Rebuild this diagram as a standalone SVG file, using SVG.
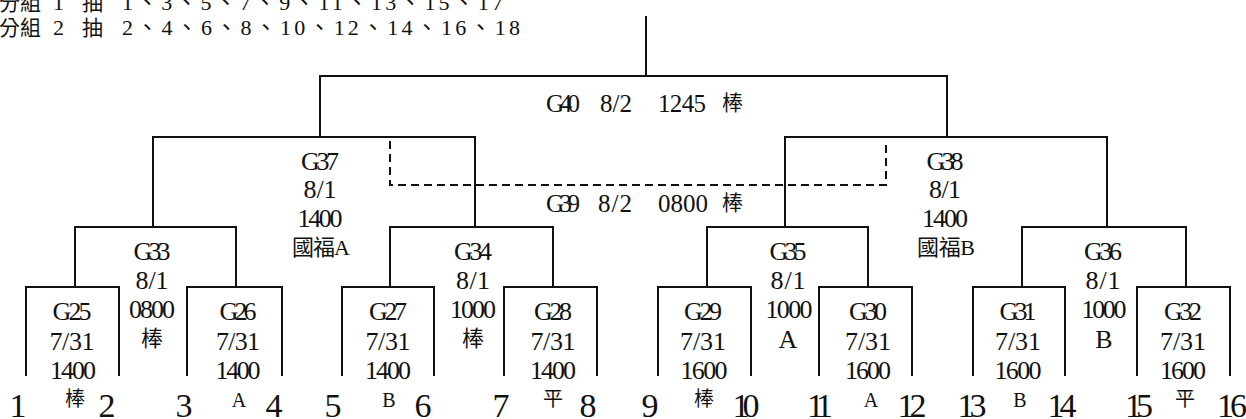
<svg xmlns="http://www.w3.org/2000/svg" width="1246" height="419" viewBox="0 0 1246 419">
<style>
.bg{fill:#fff}
.ln{fill:none;stroke:#111;stroke-width:2}
.dash{fill:none;stroke:#111;stroke-width:2;stroke-dasharray:8 5}
.lb,.sm,.num,.hd,.st{font-family:"Liberation Serif","Noto Sans CJK TC",serif;fill:#111}
.cj,.smc,.hdc,.stc{font-family:"Noto Sans CJK TC","Liberation Serif",sans-serif;fill:#111}
.lb{font-size:26px;text-anchor:middle}
.cj{font-size:22px;text-anchor:middle}
.sm{font-size:20px;text-anchor:middle}
.smc{font-size:20px;text-anchor:middle}
.num{font-size:34px;text-anchor:middle}
.hd{font-size:22px}
.hdc{font-size:21px}
.st{font-size:25px}
.stc{font-size:21px}
.cjk2{font-size:22px}
</style>
<rect class="bg" x="0" y="0" width="1246" height="419"/>

<g id="header">
<text class="hdc" x="-1" y="10">分組</text>
<text class="hd" x="53" y="10">1</text>
<text class="hdc" x="82" y="10">抽</text>
<text class="hd" x="122" y="10" textLength="381" lengthAdjust="spacing">1、3、5、7、9、11、13、15、17</text>
<text class="hdc" x="-1" y="35">分組</text>
<text class="hd" x="53" y="35">2</text>
<text class="hdc" x="82" y="35">抽</text>
<text class="hd" x="122" y="35" textLength="398" lengthAdjust="spacing">2、4、6、8、10、12、14、16、18</text>
</g>

<g id="connectors">
<path class="ln" d="M646,16 V76"/>
<path class="ln" d="M320,137 V76 H947 V137"/>
<path class="ln" d="M153,227 V137 H475 V227"/>
<path class="ln" d="M785,227 V137 H1107 V227"/>
<path class="ln" d="M75,287 V227 H236 V287"/>
<path class="ln" d="M390,287 V227 H553 V287"/>
<path class="ln" d="M707,287 V227 H868 V287"/>
<path class="ln" d="M1022,287 V227 H1186 V287"/>
<path class="ln" d="M26,376 V287 H119 V376"/>
<path class="ln" d="M187,376 V287 H282 V376"/>
<path class="ln" d="M342,376 V287 H434 V376"/>
<path class="ln" d="M504,376 V287 H597 V376"/>
<path class="ln" d="M658,376 V287 H751 V376"/>
<path class="ln" d="M819,376 V287 H912 V376"/>
<path class="ln" d="M973,376 V287 H1065 V376"/>
<path class="ln" d="M1137,376 V287 H1230 V376"/>
<path class="dash" d="M390,141 V185 H886 V141"/>
</g>

<g id="G40">
<text class="st" x="546" y="112" textLength="34">G40</text>
<text class="st" x="600" y="112" textLength="32">8/2</text>
<text class="st" x="658" y="112" textLength="48">1245</text>
<text class="stc" x="722" y="110">棒</text>
</g>
<g id="G39">
<text class="st" x="546" y="212" textLength="34">G39</text>
<text class="st" x="598" y="212" textLength="34">8/2</text>
<text class="st" x="658" y="212" textLength="50">0800</text>
<text class="stc" x="722" y="210">棒</text>
</g>

<g id="G37">
<text class="lb" x="320" y="170" textLength="38">G37</text>
<text class="lb" x="320" y="198" textLength="33">8/1</text>
<text class="lb" x="320" y="227" textLength="45">1400</text>
<text class="lb cjk2" x="321" y="255" textLength="58">國福A</text>
</g>
<g id="G38">
<text class="lb" x="945" y="170" textLength="37">G38</text>
<text class="lb" x="945" y="198" textLength="32">8/1</text>
<text class="lb" x="945" y="227" textLength="46">1400</text>
<text class="lb cjk2" x="946" y="255" textLength="58">國福B</text>
</g>

<g id="G33">
<text class="lb" x="152" y="260" textLength="37">G33</text>
<text class="lb" x="152" y="289" textLength="33">8/1</text>
<text class="lb" x="152" y="318" textLength="46">0800</text>
<text class="cj" x="152" y="346">棒</text>
</g>
<g id="G34">
<text class="lb" x="473" y="260" textLength="38">G34</text>
<text class="lb" x="473" y="289" textLength="34">8/1</text>
<text class="lb" x="473" y="318" textLength="46">1000</text>
<text class="cj" x="473" y="346">棒</text>
</g>
<g id="G35">
<text class="lb" x="788" y="260" textLength="37">G35</text>
<text class="lb" x="788" y="289" textLength="35">8/1</text>
<text class="lb" x="789" y="318" textLength="47">1000</text>
<text class="lb" x="788" y="348">A</text>
</g>
<g id="G36">
<text class="lb" x="1103" y="260" textLength="38">G36</text>
<text class="lb" x="1103" y="289" textLength="35">8/1</text>
<text class="lb" x="1104" y="318" textLength="45">1000</text>
<text class="lb" x="1104" y="348">B</text>
</g>

<g id="G25">
<text class="lb" x="72" y="320" textLength="39">G25</text>
<text class="lb" x="72" y="350" textLength="45">7/31</text>
<text class="lb" x="73" y="379" textLength="46">1400</text>
<text class="smc" x="75" y="406">棒</text>
</g>
<g id="G26">
<text class="lb" x="238" y="320" textLength="37">G26</text>
<text class="lb" x="238" y="350" textLength="44">7/31</text>
<text class="lb" x="238" y="379" textLength="45">1400</text>
<text class="sm" x="239" y="407">A</text>
</g>
<g id="G27">
<text class="lb" x="388" y="320" textLength="38">G27</text>
<text class="lb" x="388" y="350" textLength="45">7/31</text>
<text class="lb" x="388" y="379" textLength="46">1400</text>
<text class="sm" x="389" y="407">B</text>
</g>
<g id="G28">
<text class="lb" x="553" y="320" textLength="38">G28</text>
<text class="lb" x="553" y="350" textLength="45">7/31</text>
<text class="lb" x="553" y="379" textLength="46">1400</text>
<text class="smc" x="553" y="406">平</text>
</g>
<g id="G29">
<text class="lb" x="703" y="320" textLength="38">G29</text>
<text class="lb" x="703" y="350" textLength="46">7/31</text>
<text class="lb" x="704" y="379" textLength="47">1600</text>
<text class="smc" x="704" y="406">棒</text>
</g>
<g id="G30">
<text class="lb" x="868" y="320" textLength="38">G30</text>
<text class="lb" x="868" y="350" textLength="46">7/31</text>
<text class="lb" x="868" y="379" textLength="46">1600</text>
<text class="sm" x="871" y="407">A</text>
</g>
<g id="G31">
<text class="lb" x="1018" y="320" textLength="37">G31</text>
<text class="lb" x="1018" y="350" textLength="46">7/31</text>
<text class="lb" x="1018" y="379" textLength="47">1600</text>
<text class="sm" x="1020" y="407">B</text>
</g>
<g id="G32">
<text class="lb" x="1183" y="320" textLength="38">G32</text>
<text class="lb" x="1183" y="350" textLength="46">7/31</text>
<text class="lb" x="1183" y="379" textLength="46">1600</text>
<text class="smc" x="1185" y="406">平</text>
</g>

<g id="teams">
<text class="num" x="18" y="417">1</text>
<text class="num" x="107" y="417">2</text>
<text class="num" x="184" y="417">3</text>
<text class="num" x="274" y="417">4</text>
<text class="num" x="333" y="417">5</text>
<text class="num" x="423" y="417">6</text>
<text class="num" x="501" y="417">7</text>
<text class="num" x="588" y="417">8</text>
<text class="num" x="650" y="417">9</text>
<text class="num" x="746" y="417" textLength="27">10</text>
<text class="num" x="820" y="417" textLength="26">11</text>
<text class="num" x="912" y="417" textLength="29">12</text>
<text class="num" x="972" y="417" textLength="29">13</text>
<text class="num" x="1062" y="417" textLength="29">14</text>
<text class="num" x="1139" y="417" textLength="28">15</text>
<text class="num" x="1232" y="417" textLength="30">16</text>
</g>
</svg>
